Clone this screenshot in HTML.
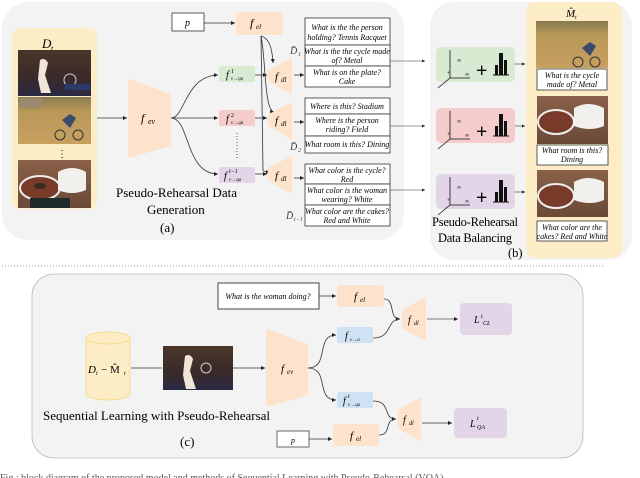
<!DOCTYPE html>
<html><head><meta charset="utf-8"><style>
html,body{margin:0;padding:0;background:#fff;}
svg{display:block;}
text{font-family:"Liberation Serif",serif;}
.it{font-style:italic;}
.q{font-size:8px;font-style:italic;}
</style></head><body>
<svg width="640" height="478" viewBox="0 0 640 478" xmlns="http://www.w3.org/2000/svg">
<defs>
<marker id="ar" markerWidth="6" markerHeight="6" refX="5" refY="3" orient="auto"><path d="M0,0.5 L5,3 L0,5.5z" fill="#222"/></marker>
<linearGradient id="ten" x1="0" y1="0" x2="0" y2="1"><stop offset="0" stop-color="#4a3528"/><stop offset="0.6" stop-color="#3a2a2a"/><stop offset="1" stop-color="#2a2a45"/></linearGradient>
<linearGradient id="bike" x1="0" y1="0" x2="0" y2="1"><stop offset="0" stop-color="#8a7a50"/><stop offset="0.3" stop-color="#b89858"/><stop offset="1" stop-color="#c8a060"/></linearGradient>
<linearGradient id="cake" x1="0" y1="0" x2="0" y2="1"><stop offset="0" stop-color="#8a6048"/><stop offset="1" stop-color="#6a4a38"/></linearGradient>
</defs>

<!-- Panel (a) -->
<rect x="2" y="2" width="402" height="238" rx="26" fill="#f3f3f3"/>
<rect x="12" y="28" width="85" height="181" rx="8" fill="#fdedc6"/>
<text x="42" y="48" class="it" font-size="13">D</text><text x="51" y="51" class="it" font-size="8">t</text>
<g>
<rect x="18" y="50" width="73" height="46" fill="url(#ten)"/>
<path d="M40,60 q5,-3 8,3 l-3,12 l6,18 h-10 l-3,-14z" fill="#f0e6d8"/>
<circle cx="70" cy="80" r="6" fill="none" stroke="#ccc" stroke-width="1"/>
<rect x="65" y="84" width="25" height="6" fill="#2a3a6a"/>
<rect x="18" y="97" width="73" height="47" fill="url(#bike)"/>
<rect x="20" y="98" width="22" height="10" fill="#9a8a70"/>
<circle cx="60" cy="135" r="5" fill="none" stroke="#333"/><circle cx="78" cy="135" r="5" fill="none" stroke="#333"/>
<path d="M62,120 l8,-6 l6,4 l-6,10z" fill="#3a4a6a"/>
<text x="57" y="157" font-size="10">⋮</text>
<rect x="18" y="160" width="73" height="48" fill="url(#cake)"/>
<ellipse cx="40" cy="188" rx="20" ry="12" fill="#7a3a2a" stroke="#eee" stroke-width="2"/>
<ellipse cx="40" cy="186" rx="6" ry="3" fill="#3a2a20"/>
<path d="M58,172 q14,-8 28,0 v18 q-14,6 -28,0z" fill="#f2f0ec"/>
<rect x="30" y="198" width="40" height="10" fill="#1f2a2a"/>
</g>
<line x1="97" y1="118" x2="127" y2="118" stroke="#333" stroke-width="0.8" marker-end="url(#ar)"/>
<path d="M128,80 Q128,78 132,80 L168,93 Q171,94 171,97 L171,143 Q171,146 168,147 L132,157 Q128,158 128,156z" fill="#fde3cc"/>
<text x="141" y="122" class="it" font-size="12">f</text><text x="148" y="124" class="it" font-size="8">ev</text>
<path d="M171,118 C185,118 185,76 218,75" fill="none" stroke="#333" stroke-width="0.8" marker-end="url(#ar)"/>
<line x1="171" y1="118" x2="218" y2="118" stroke="#333" stroke-width="0.8" marker-end="url(#ar)"/>
<path d="M171,118 C190,118 185,174 218,174" fill="none" stroke="#333" stroke-width="0.8" marker-end="url(#ar)"/>
<rect x="219" y="66" width="36" height="16" rx="2" fill="#d9ead3"/>
<text x="226" y="78" class="it" font-size="10">f</text><text x="231" y="73" font-size="6">1</text><text x="231" y="80" class="it" font-size="5">v→qa</text>
<rect x="219" y="110" width="36" height="16" rx="2" fill="#f4cccc"/>
<text x="226" y="122" class="it" font-size="10">f</text><text x="231" y="117" font-size="6">2</text><text x="231" y="124" class="it" font-size="5">v→qa</text>
<line x1="237" y1="133" x2="237" y2="160" stroke="#333" stroke-width="0.8" stroke-dasharray="1,2"/>
<rect x="219" y="167" width="36" height="16" rx="2" fill="#e1d5e7"/>
<text x="224" y="179" class="it" font-size="10">f</text><text x="229" y="173" class="it" font-size="6">t−1</text><text x="229" y="181" class="it" font-size="5">v→qa</text>
<rect x="172" y="13" width="32" height="18" fill="#fff" stroke="#333" stroke-width="0.8"/>
<text x="185" y="26" class="it" font-size="10">p</text>
<line x1="204" y1="23" x2="235" y2="23" stroke="#333" stroke-width="0.8" marker-end="url(#ar)"/>
<rect x="236" y="12" width="47" height="23" rx="3" fill="#fde3cc"/>
<text x="250" y="27" class="it" font-size="12">f</text><text x="256" y="29" class="it" font-size="7">el</text>
<path d="M261,36 C268,38 272,45 273,63" fill="none" stroke="#333" stroke-width="0.8" marker-end="url(#ar)"/>
<path d="M261,36 C266,60 264,110 274,112" fill="none" stroke="#333" stroke-width="0.8" marker-end="url(#ar)"/>
<path d="M261,36 L263,170 Q263,172 270,172" fill="none" stroke="#333" stroke-width="0.8" marker-end="url(#ar)"/>
<line x1="255" y1="75" x2="267" y2="75" stroke="#333" stroke-width="0.8" marker-end="url(#ar)"/>
<line x1="255" y1="118" x2="267" y2="118" stroke="#333" stroke-width="0.8" marker-end="url(#ar)"/>
<line x1="255" y1="174" x2="267" y2="174" stroke="#333" stroke-width="0.8" marker-end="url(#ar)"/>
<g fill="#fde3cc">
<path d="M269,70 L292,57 L292,95 L269,82 Q266,76 269,70z"/>
<path d="M269,114 L292,102 L292,140 L269,126 Q266,120 269,114z"/>
<path d="M269,167 L292,156 L292,194 L269,181 Q266,174 269,167z"/>
</g>
<g class="it" font-size="11"><text x="275" y="80">f</text><text x="275" y="124">f</text><text x="275" y="179">f</text></g>
<g class="it" font-size="7"><text x="281" y="82">dl</text><text x="281" y="126">dl</text><text x="281" y="181">dl</text></g>
<line x1="294" y1="75" x2="304" y2="75" stroke="#333" stroke-width="0.8" marker-end="url(#ar)"/>
<line x1="294" y1="122" x2="304" y2="122" stroke="#333" stroke-width="0.8" marker-end="url(#ar)"/>
<line x1="294" y1="178" x2="304" y2="178" stroke="#333" stroke-width="0.8" marker-end="url(#ar)"/>
<g fill="#fff" stroke="#333" stroke-width="0.8">
<rect x="305" y="18" width="85" height="27"/><rect x="305" y="45" width="85" height="21"/><rect x="305" y="66" width="85" height="21"/>
<rect x="305" y="98" width="85" height="16"/><rect x="305" y="114" width="85" height="22"/><rect x="305" y="136" width="85" height="17"/>
<rect x="305" y="164" width="85" height="20"/><rect x="305" y="184" width="85" height="21"/><rect x="305" y="205" width="85" height="21"/>
</g>
<g class="q" text-anchor="middle">
<text x="347" y="30">What is the the person</text><text x="347" y="40">holding? Tennis Racquet</text>
<text x="347" y="54">What is the the cycle made</text><text x="347" y="63">of? Metal</text>
<text x="347" y="75">What is on the plate?</text><text x="347" y="84">Cake</text>
<text x="347" y="109">Where is this? Stadium</text>
<text x="347" y="123">Where is the person</text><text x="347" y="132">riding? Field</text>
<text x="347" y="147">What room is this? Dining</text>
<text x="347" y="173">What color is the cycle?</text><text x="347" y="182">Red</text>
<text x="347" y="193">What color is the woman</text><text x="347" y="202">wearing? White</text>
<text x="347" y="214">What color are the cakes?</text><text x="347" y="223">Red and White</text>
</g>
<g class="it" font-size="10" fill="#444"><text x="290" y="54">D̄</text><text x="298" y="56" font-size="6">1</text><text x="290" y="150">D̄</text><text x="298" y="152" font-size="6">2</text><text x="286" y="219">D̄</text><text x="294" y="221" font-size="6">t−1</text></g>
<text x="116" y="197" font-size="13" textLength="121">Pseudo-Rehearsal Data</text>
<text x="147" y="214" font-size="13">Generation</text>
<text x="160" y="232" font-size="13">(a)</text>
<line x1="390" y1="61" x2="425" y2="61" stroke="#333" stroke-width="0.6" marker-end="url(#ar)"/>
<line x1="390" y1="126" x2="425" y2="126" stroke="#333" stroke-width="0.6" marker-end="url(#ar)"/>
<line x1="390" y1="190" x2="425" y2="190" stroke="#333" stroke-width="0.6" marker-end="url(#ar)"/>

<!-- Panel (b) -->
<rect x="430" y="2" width="202" height="258" rx="24" fill="#f3f3f3"/>
<rect x="526" y="2" width="96" height="256" rx="10" fill="#fdedc6"/>
<text x="566" y="17" class="it" font-size="11">M̂</text><text x="575" y="19" class="it" font-size="6">t</text>
<rect x="436" y="47" width="79" height="35" rx="5" fill="#d9ead3"/>
<rect x="436" y="108" width="79" height="35" rx="5" fill="#f4cccc"/>
<rect x="436" y="174" width="79" height="35" rx="5" fill="#e1d5e7"/>
<g id="ax">
<line x1="450" y1="78" x2="450" y2="50" stroke="#111" stroke-width="0.8"/>
<line x1="450" y1="78" x2="470" y2="78" stroke="#111" stroke-width="0.8"/>
<line x1="450" y1="78" x2="438" y2="88" stroke="#111" stroke-width="0.8"/>
<text x="457" y="62" font-size="6">∞</text><text x="465" y="76" font-size="6">∞</text><text x="447" y="75" font-size="6">+</text>
<text x="476" y="77" font-size="20" font-weight="bold" font-family="Liberation Sans">+</text>
<rect x="495" y="65" width="3" height="10" fill="#111"/><rect x="499" y="53" width="4" height="22" fill="#111"/><rect x="504" y="60" width="3" height="15" fill="#111"/>
<line x1="493" y1="75" x2="509" y2="75" stroke="#111"/>
</g>
<use href="#ax" y="61"/>
<use href="#ax" y="127"/>
<line x1="515" y1="64" x2="525" y2="64" stroke="#333" stroke-width="0.6" marker-end="url(#ar)"/>
<line x1="515" y1="126" x2="525" y2="126" stroke="#333" stroke-width="0.6" marker-end="url(#ar)"/>
<line x1="515" y1="192" x2="525" y2="192" stroke="#333" stroke-width="0.6" marker-end="url(#ar)"/>
<rect x="536" y="21" width="72" height="47" fill="url(#bike)"/>
<circle cx="578" cy="62" r="5" fill="none" stroke="#333"/><circle cx="595" cy="62" r="5" fill="none" stroke="#333"/>
<path d="M582,48 l8,-6 l6,4 l-6,10z" fill="#3a4a6a"/>
<rect x="537" y="69" width="70" height="21" fill="#fff" stroke="#333" stroke-width="0.8"/>
<text x="572" y="78" class="q" text-anchor="middle">What is the cycle</text><text x="572" y="87" class="q" text-anchor="middle">made of? Metal</text>
<rect x="537" y="96" width="71" height="48" fill="url(#cake)"/>
<ellipse cx="556" cy="122" rx="18" ry="12" fill="#7a3a2a" stroke="#eee" stroke-width="2"/>
<path d="M574,108 q14,-8 30,0 v18 q-14,6 -30,0z" fill="#f2f0ec"/>
<rect x="537" y="145" width="71" height="20" fill="#fff" stroke="#333" stroke-width="0.8"/>
<text x="572" y="153" class="q" text-anchor="middle">What room is this?</text><text x="572" y="162" class="q" text-anchor="middle">Dining</text>
<rect x="537" y="170" width="71" height="47" fill="url(#cake)"/>
<ellipse cx="556" cy="196" rx="18" ry="12" fill="#7a3a2a" stroke="#eee" stroke-width="2"/>
<path d="M574,182 q14,-8 30,0 v18 q-14,6 -30,0z" fill="#f2f0ec"/>
<rect x="537" y="221" width="70" height="20" fill="#fff" stroke="#333" stroke-width="0.8"/>
<text x="572" y="230" class="q" text-anchor="middle">What color are the</text><text x="572" y="239" class="q" text-anchor="middle">cakes? Red and White</text>
<text x="432" y="226" font-size="12.5" textLength="86">Pseudo-Rehearsal</text>
<text x="438" y="242" font-size="12.5" textLength="74">Data Balancing</text>
<text x="508" y="257" font-size="12.5">(b)</text>

<line x1="2" y1="266" x2="604" y2="266" stroke="#777" stroke-width="0.8" stroke-dasharray="1,2"/>

<!-- Panel (c) -->
<rect x="32" y="274" width="551" height="184" rx="22" fill="#f3f3f3" stroke="#bbb" stroke-width="0.8"/>
<path d="M86,338 v56 a22,6 0 0 0 44,0 v-56" fill="#fdedc6" stroke="#f5d77a" stroke-width="0.8"/>
<ellipse cx="108" cy="338" rx="22" ry="6" fill="#fdedc6" stroke="#f5d77a" stroke-width="0.8"/>
<text x="88" y="373" class="it" font-size="11">D</text><text x="96" y="375" class="it" font-size="6">t</text><text x="101" y="373" font-size="11">− M̂</text><text x="124" y="375" class="it" font-size="6">t</text>
<line x1="131" y1="368" x2="162" y2="368" stroke="#333" stroke-width="0.8"/>
<rect x="163" y="346" width="70" height="44" fill="url(#ten)"/>
<path d="M185,356 q5,-3 8,3 l-3,12 l6,18 h-10 l-3,-14z" fill="#f0e6d8"/>
<circle cx="206" cy="368" r="5" fill="none" stroke="#ccc"/>
<line x1="233" y1="368" x2="265" y2="368" stroke="#333" stroke-width="0.8" marker-end="url(#ar)"/>
<path d="M266,331 Q266,328 270,330 L305,343 Q308,344 308,347 L308,392 Q308,395 305,396 L270,406 Q266,407 266,404z" fill="#fde3cc"/>
<text x="281" y="372" class="it" font-size="11">f</text><text x="287" y="374" class="it" font-size="7">ev</text>
<path d="M308,368 C330,368 315,335 336,335" fill="none" stroke="#333" stroke-width="0.8" marker-end="url(#ar)"/>
<path d="M308,368 C330,368 315,400 336,400" fill="none" stroke="#333" stroke-width="0.8" marker-end="url(#ar)"/>
<rect x="337" y="327" width="36" height="16" rx="2" fill="#cfe2f3"/>
<text x="345" y="339" class="it" font-size="10">f</text><text x="350" y="341" class="it" font-size="5">v→a</text>
<rect x="337" y="392" width="36" height="16" rx="2" fill="#cfe2f3"/>
<text x="343" y="404" class="it" font-size="10">f</text><text x="348" y="398" class="it" font-size="6">t</text><text x="348" y="406" class="it" font-size="5">v→qa</text>
<rect x="218" y="283" width="101" height="26" fill="#fff" stroke="#444" stroke-width="1"/>
<text x="268" y="299" class="q" text-anchor="middle">What is the woman doing?</text>
<line x1="319" y1="296" x2="336" y2="296" stroke="#333" stroke-width="0.8" marker-end="url(#ar)"/>
<rect x="337" y="285" width="47" height="22" rx="3" fill="#fde3cc"/>
<text x="354" y="300" class="it" font-size="11">f</text><text x="360" y="302" class="it" font-size="7">el</text>
<path d="M384,299 C396,299 388,319 400,319" fill="none" stroke="#333" stroke-width="0.8" marker-end="url(#ar)"/>
<path d="M373,338 C393,338 386,319 400,319" fill="none" stroke="#333" stroke-width="0.8"/>
<path d="M403,309 L426,297 L426,341 L403,329 Q400,319 403,309z" fill="#fde3cc"/>
<text x="408" y="323" class="it" font-size="10">f</text><text x="414" y="325" class="it" font-size="6">dl</text>
<line x1="427" y1="319" x2="458" y2="319" stroke="#555" stroke-width="0.8" marker-end="url(#ar)"/>
<rect x="460" y="303" width="52" height="32" rx="4" fill="#e1d5e7"/>
<text x="474" y="323" class="it" font-size="10">L</text><text x="481" y="318" class="it" font-size="6">t</text><text x="483" y="325" class="it" font-size="6">CL</text>
<rect x="277" y="431" width="32" height="16" fill="#fff" stroke="#444" stroke-width="0.8"/>
<text x="291" y="443" class="it" font-size="8">p</text>
<line x1="309" y1="439" x2="332" y2="439" stroke="#333" stroke-width="0.8" marker-end="url(#ar)"/>
<rect x="333" y="424" width="46" height="22" rx="3" fill="#fde3cc"/>
<text x="350" y="439" class="it" font-size="11">f</text><text x="356" y="441" class="it" font-size="7">el</text>
<path d="M373,401 C392,401 382,419 396,419" fill="none" stroke="#333" stroke-width="0.8" marker-end="url(#ar)"/>
<path d="M379,435 C392,435 384,419 396,419" fill="none" stroke="#333" stroke-width="0.8"/>
<path d="M399,409 L421,397 L421,441 L399,429 Q396,419 399,409z" fill="#fde3cc"/>
<text x="403" y="423" class="it" font-size="10">f</text><text x="409" y="425" class="it" font-size="6">dl</text>
<line x1="422" y1="423" x2="452" y2="423" stroke="#333" stroke-width="0.8" marker-end="url(#ar)"/>
<rect x="454" y="408" width="53" height="30" rx="4" fill="#e1d5e7"/>
<text x="470" y="427" class="it" font-size="10">L</text><text x="477" y="420" class="it" font-size="6">t</text><text x="477" y="429" class="it" font-size="6">QA</text>
<text x="43" y="420" font-size="13" textLength="227">Sequential Learning with Pseudo-Rehearsal</text>
<text x="180" y="446" font-size="13">(c)</text>
<text x="0" y="481" font-size="10" fill="#555">Fig.: block diagram of the proposed model and methods of Sequential Learning with Pseudo-Rehearsal (VQA)</text>
</svg>
</body></html>
